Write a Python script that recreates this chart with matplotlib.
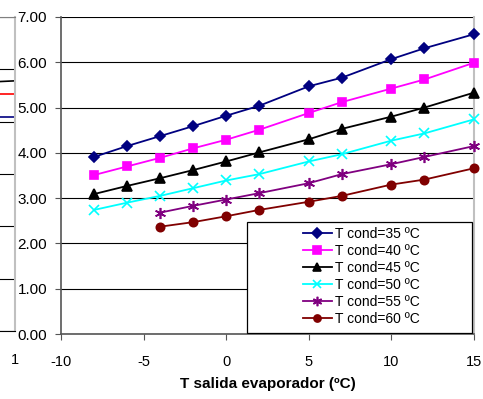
import numpy as np
import matplotlib
matplotlib.use('Agg')
import matplotlib.pyplot as plt
from matplotlib.patches import Rectangle

plt.rcParams['font.family'] = ['Liberation Sans', 'DejaVu Sans']
plt.rcParams['axes.unicode_minus'] = False

# datos
t_evap = [-8, -6, -4, -2, 0, 2, 5, 7, 10, 12, 15]
t_evap_corto = [-4, -2, 0, 2, 5, 7, 10, 12, 15]

cop_35 = [3.91, 4.15, 4.37, 4.59, 4.82, 5.04, 5.47, 5.66, 6.07, 6.31, 6.62]
cop_40 = [3.51, 3.70, 3.89, 4.10, 4.29, 4.51, 4.88, 5.12, 5.42, 5.62, 5.99]
cop_45 = [3.09, 3.27, 3.44, 3.62, 3.81, 4.01, 4.30, 4.53, 4.80, 5.00, 5.33]
cop_50 = [2.74, 2.90, 3.05, 3.22, 3.39, 3.53, 3.81, 3.97, 4.27, 4.43, 4.74]
cop_55 = [2.68, 2.83, 2.97, 3.11, 3.33, 3.53, 3.75, 3.91, 4.15]
cop_60 = [2.37, 2.47, 2.60, 2.74, 2.92, 3.05, 3.30, 3.41, 3.66]

etiquetas = ['T cond=35 ºC', 'T cond=40 ºC', 'T cond=45 ºC',
             'T cond=50 ºC', 'T cond=55 ºC', 'T cond=60 ºC']

# trozo del grafico vecino (recortado a la izquierda)
vecino_x = [0, 1]
vecino_negro = [4.74, 4.78]
vecino_rojo = [4.53, 4.53]
vecino_azul = [4.09, 4.09]

W, H = 483, 399
fig = plt.figure(figsize=(W / 100, H / 100), dpi=100)

# --- grafico vecino ---
axv = fig.add_axes([-30 / W, (H - 331) / H, 45 / W, (331 - 17) / H])
axv.plot(vecino_x, vecino_negro, color='black', lw=1.2)
axv.plot(vecino_x, vecino_rojo, color='red', lw=1.2)
axv.plot(vecino_x, vecino_azul, color='#000080', lw=1.2)
axv.set_xlim(0, 1)
axv.set_ylim(0, 6)
axv.set_yticks(range(7))
axv.set_yticklabels([])
axv.tick_params(axis='y', length=0)
axv.set_xticks([1])
axv.set_xticklabels(['1'], fontsize=10.5)
axv.tick_params(axis='x', length=0, pad=16)
axv.grid(axis='y', color='black', lw=0.8)
axv.spines['left'].set_visible(False)
axv.spines['bottom'].set_color('black')
axv.spines['right'].set_color('#c0c0c0')
axv.spines['right'].set_linewidth(1.5)
axv.spines['top'].set_color('#808080')

# --- grafico principal ---
ax = fig.add_axes([61 / W, (H - 334) / H, 413 / W, 317 / H])

series = [
    (t_evap, cop_35, '#000080', 'D', 5.5),
    (t_evap, cop_40, '#FF00FF', 's', 6.2),
    (t_evap, cop_45, 'black', '^', 7),
    (t_evap, cop_50, '#00FFFF', 'x', 7),
    (t_evap_corto, cop_55, '#800080', (6, 2, 0), 8),
    (t_evap_corto, cop_60, '#800000', 'o', 6),
]
for (x, y, c, m, ms), lab in zip(series, etiquetas):
    ax.plot(x, y, color=c, marker=m, markersize=ms, lw=1.3,
            markeredgewidth=1.2, label=lab, clip_on=False, zorder=3)

ax.set_xlim(-10, 15)
ax.set_ylim(0, 7)
ax.set_xticks(np.arange(-10, 16, 5))
ax.set_yticks(np.arange(0, 8, 1))
ax.set_yticklabels([f'{v:.2f}' for v in np.arange(0, 8, 1)])
ax.tick_params(axis='y', labelsize=11, length=4, pad=6, color='#555555')
ax.tick_params(axis='x', labelsize=10.5, length=4, pad=11, color='#555555')
ax.grid(axis='y', color='black', lw=0.8, zorder=0)
ax.set_axisbelow(True)
ax.spines['top'].set_visible(False)
ax.spines['right'].set_color('#c0c0c0')
ax.spines['right'].set_linewidth(1.5)
ax.spines['left'].set_color('#555555')
ax.spines['left'].set_linewidth(1.2)
ax.spines['bottom'].set_color('#555555')
ax.spines['bottom'].set_linewidth(1.2)

ax.set_xlabel('T salida evaporador (ºC)', fontsize=11, fontweight='bold', labelpad=6)

# caja de la leyenda
caja = Rectangle((0.450, 0.003), 0.545, 0.350, transform=ax.transAxes,
                 facecolor='white', edgecolor='black', lw=0.9, zorder=4)
ax.add_patch(caja)
leg = ax.legend(loc='center', bbox_to_anchor=(0.727, 0.181), frameon=False,
                fontsize=10, handlelength=2.1, handletextpad=0.2,
                labelspacing=0.22, borderaxespad=0, markerscale=0.85)
leg.set_zorder(5)

fig.savefig('out.png', dpi=100)
